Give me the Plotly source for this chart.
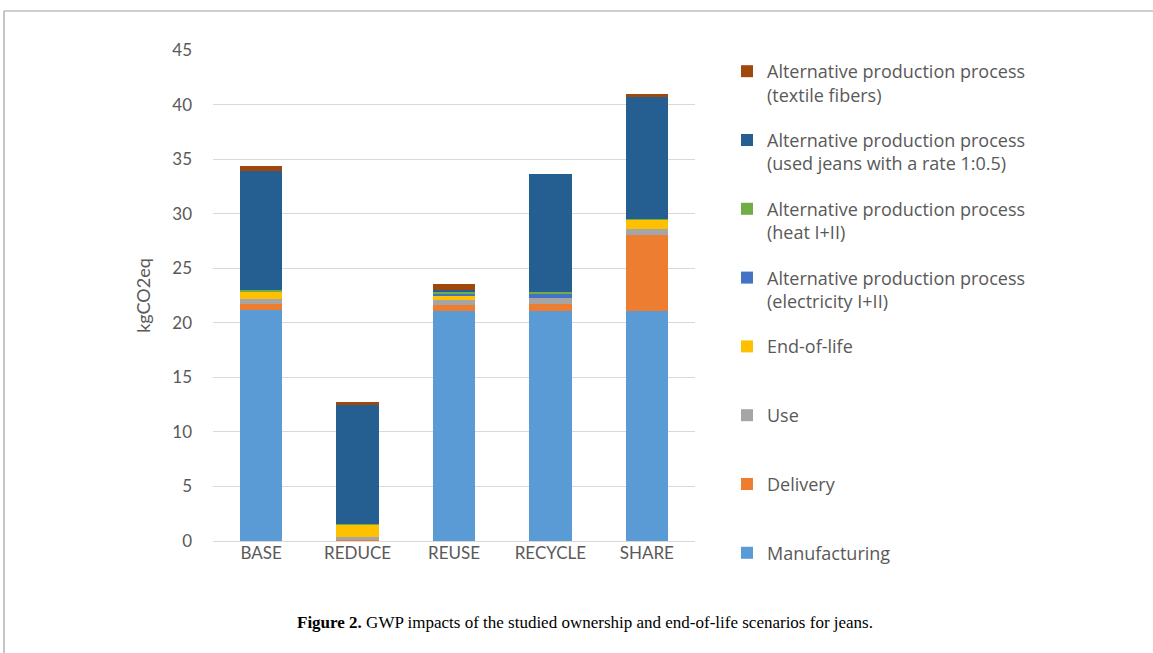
import plotly.graph_objects as go

categories = ["BASE", "REDUCE", "REUSE", "RECYCLE", "SHARE"]

manufacturing = [21.2, 0.0, 21.1, 21.1, 21.1]
delivery = [0.5, 0.05, 0.5, 0.65, 6.9]
use = [0.5, 0.35, 0.5, 0.55, 0.55]
end_of_life = [0.65, 1.1, 0.4, 0.0, 0.9]
electricity = [0.05, 0.0, 0.1, 0.3, 0.05]
heat = [0.1, 0.05, 0.2, 0.2, 0.05]
used_jeans = [10.95, 10.9, 0.25, 10.8, 11.1]
textile_fibers = [0.45, 0.3, 0.5, 0.0, 0.35]

series_names = [
    "Manufacturing<br> ",
    "Delivery<br> ",
    "Use<br> ",
    "End-of-life<br> ",
    "Alternative production process<br>(electricity I+II)",
    "Alternative production process<br>(heat I+II)",
    "Alternative production process<br>(used jeans with a rate 1:0.5)",
    "Alternative production process<br>(textile fibers)",
]
series_values = [manufacturing, delivery, use, end_of_life, electricity, heat, used_jeans, textile_fibers]
series_colors = ["#5B9BD5", "#ED7D31", "#A5A5A5", "#FFC000", "#4472C4", "#70AD47", "#255E91", "#9E480E"]

fig = go.Figure()
n = len(series_names)
for i, (name, vals, col) in enumerate(zip(series_names, series_values, series_colors)):
    fig.add_trace(go.Bar(
        x=categories, y=vals, name=name, legendgroup=name,
        legendrank=n - i,
        marker=dict(color=col, line=dict(width=0)),
    ))

L, R, T, B = 213, 458, 50, 112
W, H = 1153, 653
pw, ph = W - L - R, H - T - B

def px_x(p):
    return (p - L) / pw

def px_y(p):
    return (H - B - p) / ph

font_main = "Lato, 'Open Sans', sans-serif"
grey = "#595959"

fig.update_layout(
    width=W, height=H,
    margin=dict(l=L, r=R, t=T, b=B, pad=0),
    barmode="stack",
    bargap=0.56,
    plot_bgcolor="white",
    paper_bgcolor="white",
    font=dict(family=font_main, size=17, color=grey),
    showlegend=True,
    legend=dict(
        x=px_x(727), xanchor="left",
        y=px_y(53), yanchor="top",
        traceorder="grouped",
        tracegroupgap=19,
        valign="top",
        maxheight=640,
        font=dict(family="'Open Sans', Lato, sans-serif", size=18, color=grey),
        bgcolor="rgba(0,0,0,0)",
    ),
    xaxis=dict(
        showgrid=False, showline=False, ticks="",
        tickfont=dict(size=17, color=grey),
    ),
    yaxis=dict(
        range=[0, 45], dtick=5, showgrid=True, gridcolor="#D9D9D9", gridwidth=1,
        zeroline=True, zerolinecolor="#D9D9D9", zerolinewidth=1,
        showline=False, ticks="", ticklabelstandoff=20,
        tickfont=dict(size=17, color=grey),
        title=dict(text="kgCO2eq", standoff=16, font=dict(size=18, color=grey)),
    ),
    annotations=[
        dict(
            text="<b>Figure 2.</b> GWP impacts of the studied ownership and end-of-life scenarios for jeans.",
            x=px_x(585), y=px_y(622), xref="paper", yref="paper",
            xanchor="center", yanchor="middle", showarrow=False,
            font=dict(family="'Liberation Serif', 'DejaVu Serif', serif", size=17, color="black"),
        )
    ],
    shapes=[
        dict(type="line", xref="paper", yref="paper",
             x0=px_x(4), x1=px_x(1153), y0=px_y(11), y1=px_y(11),
             line=dict(color="#A0A0A0", width=1.2)),
        dict(type="line", xref="paper", yref="paper",
             x0=px_x(4), x1=px_x(4), y0=px_y(11), y1=px_y(653),
             line=dict(color="#A0A0A0", width=1.2)),
    ],
)

fig.write_html("out.html")
